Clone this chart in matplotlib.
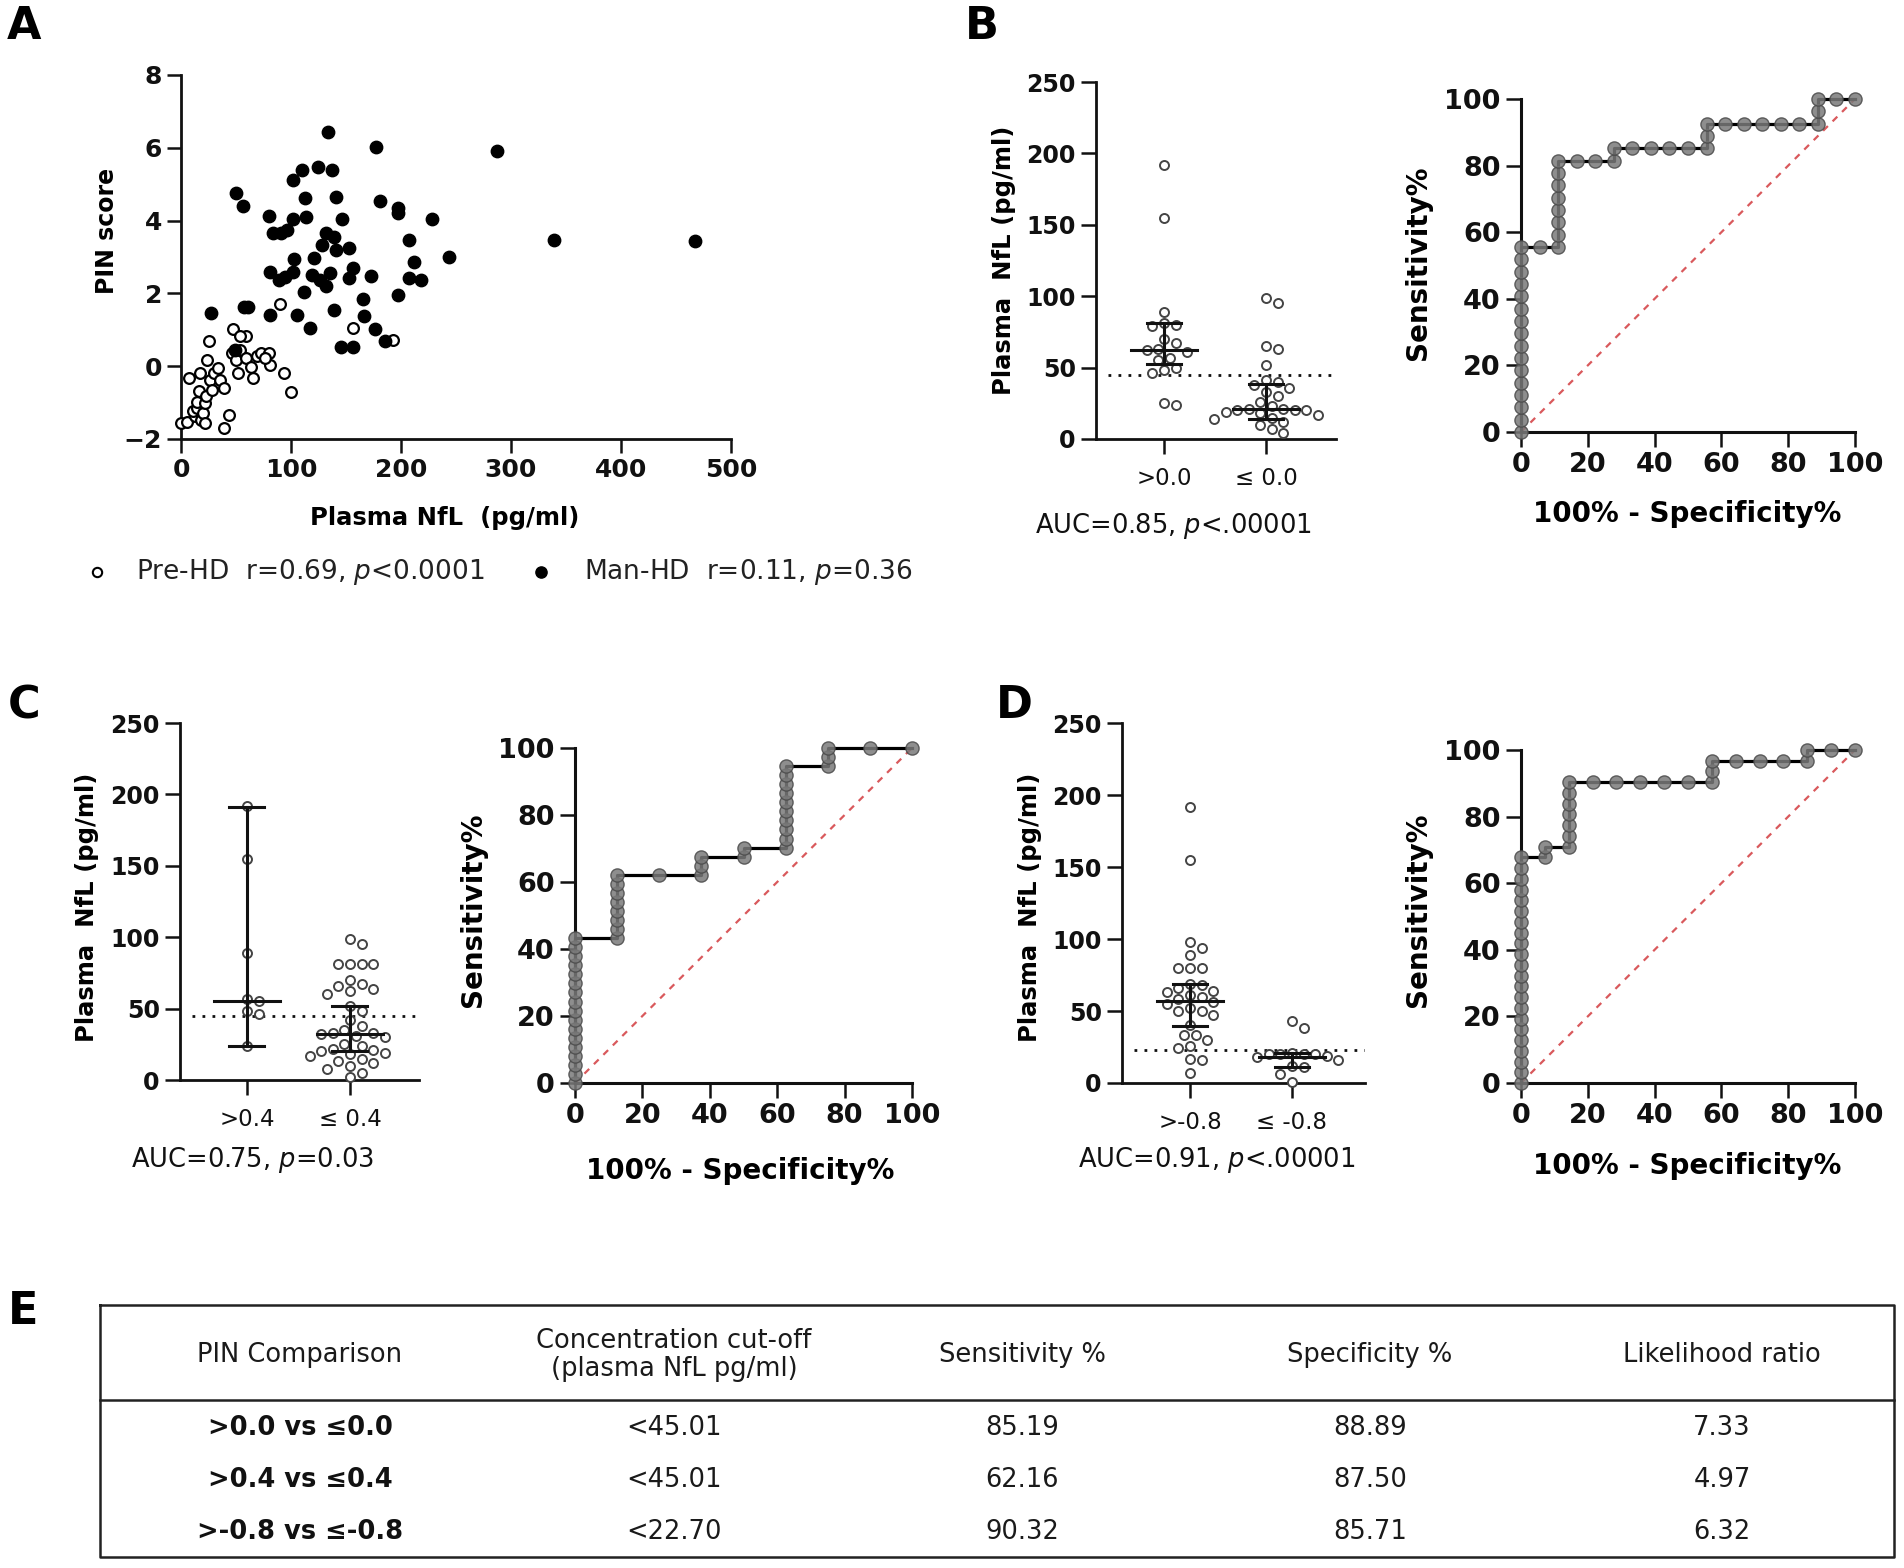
import numpy as np
import matplotlib
matplotlib.use("Agg")
import matplotlib.pyplot as plt

plt.rcParams['font.family'] = ['DejaVu Sans']
plt.rcParams['mathtext.fontset'] = 'dejavusans'

# ---------------- DATA ----------------
# Panel A: PIN score vs plasma NfL
pre_nfl = [0, 5.6, 7.4, 13, 11, 14.9, 14.9, 16.7, 17.5, 18.6, 20.4, 21.6, 22.3, 21.6, 25, 24, 26, 27.9,
           29.7, 33.5, 35.3, 39, 39, 43.9, 47.6, 46.5, 50.2, 52, 53.9, 58.7, 59.5, 63.2, 65, 68.8, 72.5,
           80, 81, 90, 94, 99.6, 156, 193, 53.9, 76]
pre_pin = [-1.56, -1.52, -0.33, -1.38, -1.24, -1.15, -0.97, -0.69, -0.19, -1.47, -1.29, -1.01, -0.83, -1.56,
           0.68, 0.18, -0.37, -0.65, -0.19, -0.05, -0.37, -0.6, -1.7, -1.33, 1.02, 0.36, 0.18, -0.19, 0.45,
           0.84, 0.22, -0.01, -0.33, 0.27, 0.36, 0.36, 0.04, 1.7, -0.19, -0.71, 1.05, 0.71, 0.82, 0.22]
man_nfl = [27, 50, 56.5, 49.4, 57.6, 61, 80, 83.6, 81, 81, 91, 96.7, 89, 94.8, 101.5, 109.7, 101.5, 103,
           102, 105, 112.6, 114, 111.5, 117, 124.5, 120.8, 119, 126, 128, 132, 133.8, 137.5, 139.4, 132,
           135.7, 141, 141, 138.7, 145, 146.8, 153, 153, 156, 156, 165.4, 166.5, 172.9, 177.7, 176.6, 181,
           185.9, 197, 197, 197, 207.4, 212, 207.4, 218.6, 228.6, 243.5, 287, 339, 467.7]
man_pin = [1.46, 4.77, 4.41, 0.45, 1.64, 1.64, 4.14, 3.65, 2.58, 1.41, 3.65, 3.75, 2.37, 2.46, 5.12, 5.39,
           4.04, 2.95, 2.6, 1.41, 4.61, 4.11, 2.05, 1.06, 5.48, 2.97, 2.51, 2.37, 3.33, 3.65, 6.44, 5.39,
           3.56, 2.19, 2.56, 4.66, 3.2, 1.55, 0.54, 4.04, 3.24, 2.42, 2.7, 0.54, 1.84, 1.38, 2.48, 6.03,
           1.02, 4.55, 0.68, 4.34, 4.2, 1.96, 3.47, 2.86, 2.42, 2.36, 4.04, 3.0, 5.91, 3.47, 3.44]
legend_labels = ["Pre-HD  r=0.69, $\\it{p}$<0.0001", "Man-HD  r=0.11, $\\it{p}$=0.36"]

# Panel B: PIN >0.0 vs <=0.0
B_cats = [">0.0", "\u2264 0.0"]
B_hi = [192, 155, 89, 81, 80, 79, 70, 67, 63, 62, 61, 57, 55, 50, 48, 46, 25, 24]
B_lo = [99, 95, 65, 63, 52, 41, 40, 38, 36, 33, 30, 26, 23, 21, 21, 20, 20, 20, 19, 18, 17, 15, 14, 12, 10, 7, 4]
B_med = [62.5, 21]
B_q1 = [52.5, 14]
B_q3 = [81, 38.5]
B_auc = "AUC=0.85, $\\it{p}$<.00001"
B_fpr = [0, 0, 0, 0, 0, 0, 0, 0, 0, 0, 0, 0, 0, 0, 0, 0, 5.56, 11.11, 11.11, 11.11, 11.11, 11.11, 11.11,
         11.11, 11.11, 16.67, 22.22, 27.78, 27.78, 33.33, 38.89, 44.44, 50.0, 55.56, 55.56, 55.56, 61.11,
         66.67, 72.22, 77.78, 83.33, 88.89, 88.89, 88.89, 94.44, 100]
B_tpr = [0, 3.70, 7.41, 11.11, 14.81, 18.52, 22.22, 25.93, 29.63, 33.33, 37.04, 40.74, 44.44, 48.15, 51.85,
         55.56, 55.56, 55.56, 59.26, 62.96, 66.67, 70.37, 74.07, 77.78, 81.48, 81.48, 81.48, 81.48, 85.19,
         85.19, 85.19, 85.19, 85.19, 85.19, 88.89, 92.59, 92.59, 92.59, 92.59, 92.59, 92.59, 92.59, 96.30,
         100, 100, 100]

# Panel C: PIN >0.4 vs <=0.4
C_cats = [">0.4", "\u2264 0.4"]
C_hi = [192, 155, 89, 57, 55, 48, 46, 24]
C_lo = [99, 95, 81, 81, 81, 81, 70, 67, 66, 64, 62, 60, 52, 48, 42, 38, 35, 33, 33, 32, 31, 30, 25, 24,
        22, 21, 20, 19, 18, 17, 15, 13, 12, 10, 8, 5, 2]
C_med = [55, 32]
C_q1 = [24, 20]
C_q3 = [191.5, 51.5]
C_auc = "AUC=0.75, $\\it{p}$=0.03"
C_fpr = [0, 0, 0, 0, 0, 0, 0, 0, 0, 0, 0, 0, 0, 0, 0, 0, 0, 12.5, 12.5, 12.5, 12.5, 12.5, 12.5, 12.5, 12.5,
         25, 37.5, 37.5, 37.5, 50, 50, 62.5, 62.5, 62.5, 62.5, 62.5, 62.5, 62.5, 62.5, 62.5, 62.5,
         75, 75, 75, 87.5, 100]
C_tpr = [0, 2.70, 5.41, 8.11, 10.81, 13.51, 16.22, 18.92, 21.62, 24.32, 27.03, 29.73, 32.43, 35.14, 37.84,
         40.54, 43.24, 43.24, 45.95, 48.65, 51.35, 54.05, 56.76, 59.46, 62.16, 62.16, 62.16, 64.86, 67.57,
         67.57, 70.27, 70.27, 72.97, 75.68, 78.38, 81.08, 83.78, 86.49, 89.19, 91.89, 94.59, 94.59, 97.30,
         100, 100, 100]

# Panel D: PIN >-0.8 vs <=-0.8
D_cats = [">-0.8", "\u2264 -0.8"]
D_hi = [192, 155, 98, 94, 89, 80, 80, 80, 69, 68, 66, 64, 63, 61, 60, 58, 56, 55, 52, 50, 50, 47, 40,
        33, 33, 30, 26, 24, 17, 16, 7]
D_lo = [43, 38, 21, 20, 20, 20, 20, 19, 18, 16, 12, 11, 6, 1]
D_med = [57, 18]
D_q1 = [39.5, 11]
D_q3 = [68.5, 20.5]
D_auc = "AUC=0.91, $\\it{p}$<.00001"
D_fpr = [0, 0, 0, 0, 0, 0, 0, 0, 0, 0, 0, 0, 0, 0, 0, 0, 0, 0, 0, 0, 0, 0, 7.14, 7.14, 14.29, 14.29,
         14.29, 14.29, 14.29, 14.29, 14.29, 21.43, 28.57, 35.71, 42.86, 50.0, 57.14, 57.14, 57.14, 64.29,
         71.43, 78.57, 85.71, 85.71, 92.86, 100]
D_tpr = [0, 3.23, 6.45, 9.68, 12.90, 16.13, 19.35, 22.58, 25.81, 29.03, 32.26, 35.48, 38.71, 41.94, 45.16,
         48.39, 51.61, 54.84, 58.06, 61.29, 64.52, 67.74, 67.74, 70.97, 70.97, 74.19, 77.42, 80.65, 83.87,
         87.10, 90.32, 90.32, 90.32, 90.32, 90.32, 90.32, 90.32, 93.55, 96.77, 96.77, 96.77, 96.77, 96.77,
         100, 100, 100]

# Panel E: table
tab_headers = ["PIN Comparison", "Concentration cut-off\n(plasma NfL pg/ml)", "Sensitivity %",
               "Specificity %", "Likelihood ratio"]
tab_comp = [">0.0 vs \u22640.0", ">0.4 vs \u22640.4", ">-0.8 vs \u2264-0.8"]
tab_cutoff = [45.01, 45.01, 22.70]
tab_sens = [85.19, 62.16, 90.32]
tab_spec = [88.89, 87.50, 85.71]
tab_lr = [7.33, 4.97, 6.32]

# ---------------- FIGURE ----------------
W, H = 1904, 1568
fig = plt.figure(figsize=(W / 100, H / 100), dpi=100)
fig.patch.set_facecolor('white')


def add_ax(l, t, r, b):
    return fig.add_axes([l / W, 1 - b / H, (r - l) / W, (b - t) / H])


def ftext(x, y, s, **kw):
    fig.text(x / W, 1 - y / H, s, **kw)


def style(ax, lw=2.0, tl=10):
    for s in ['top', 'right']:
        ax.spines[s].set_visible(False)
    for s in ['left', 'bottom']:
        ax.spines[s].set_linewidth(lw)
        ax.spines[s].set_color('#111111')
    ax.tick_params(direction='out', length=tl, width=1.8, color='#111111')


DARK = '#111111'

# ---- Panel A ----
axA = add_ax(181, 75, 731, 439)
style(axA)
axA.scatter(pre_nfl, pre_pin, s=60, facecolors='white', edgecolors='black', linewidths=1.6,
            clip_on=False, zorder=3)
axA.scatter(man_nfl, man_pin, s=80, facecolors='black', edgecolors='black', linewidths=1,
            clip_on=False, zorder=4)
axA.set_xlim(0, 500)
axA.set_ylim(-2, 8)
axA.set_xticks([0, 100, 200, 300, 400, 500])
axA.set_yticks([-2, 0, 2, 4, 6, 8])
for lab in axA.get_xticklabels() + axA.get_yticklabels():
    lab.set_fontweight('bold')
    lab.set_fontsize(18)
    lab.set_color(DARK)
ftext(107, 231, "PIN score", rotation=90, ha='center', va='center', fontsize=17, fontweight='bold')
ftext(445, 518, "Plasma NfL  (pg/ml)", ha='center', va='center', fontsize=17.5, fontweight='bold')
# legend
legA = fig.add_axes([0, 0, 1, 1], facecolor='none')
legA.set_axis_off()
legA.set_xlim(0, W)
legA.set_ylim(H, 0)
legA.scatter([96.5], [572], s=45, facecolors='white', edgecolors='black', linewidths=1.5)
legA.scatter([541], [572], s=65, facecolors='black', edgecolors='black')
legA.text(136, 572, legend_labels[0], ha='left', va='center', fontsize=19, color='#222222')
legA.text(584, 572, legend_labels[1], ha='left', va='center', fontsize=19, color='#222222')


# ---- dot plots ----
def swarm_x(values, center, px_x, px_y, diam):
    vals = np.asarray(values, dtype=float)
    order = np.argsort(-vals)
    placed = []
    xs = np.zeros(len(vals))
    step = diam * 0.55
    cands = [0.0]
    for k in range(1, 40):
        cands += [k * step, -k * step]
    for i in order:
        ypx = vals[i] * px_y
        for off in cands:
            ok = True
            for (px, py) in placed:
                if (off - px) ** 2 + (ypx - py) ** 2 < diam ** 2:
                    ok = False
                    break
            if ok:
                break
        placed.append((off, ypx))
        xs[i] = center + off / px_x
    return xs


def dot_panel(box, xlim, cats, groups, med, q1, q3, cutoff, auc, ylab_xy, cat_pad, auc_xy):
    l, t, r, b = box
    ax = add_ax(l, t, r, b)
    style(ax, tl=11)
    ax.set_xlim(*xlim)
    ax.set_ylim(0, 250)
    px_x = (r - l) / (xlim[1] - xlim[0])
    px_y = (b - t) / 250.0
    for gi, vals in enumerate(groups):
        xs = swarm_x(vals, gi, px_x, px_y, 10.5)
        ax.scatter(xs, vals, s=42, facecolors='white', edgecolors='#444444', linewidths=1.4,
                   zorder=3, clip_on=False)
        ax.plot([gi - 0.32, gi + 0.32], [med[gi], med[gi]], color=DARK, lw=2.2, zorder=4)
        ax.plot([gi, gi], [q1[gi], q3[gi]], color=DARK, lw=2.2, zorder=4)
        for v in (q1[gi], q3[gi]):
            ax.plot([gi - 0.17, gi + 0.17], [v, v], color=DARK, lw=2.2, zorder=4)
    ax.axhline(cutoff, xmin=0.05, xmax=1.0, color=DARK, lw=2, ls=(0, (1, 2.6)), zorder=2)
    ax.set_xticks([0, 1])
    ax.set_xticklabels(cats, fontsize=16.5, color=DARK)
    ax.tick_params(axis='x', pad=cat_pad)
    ax.set_yticks([0, 50, 100, 150, 200, 250])
    for lab in ax.get_yticklabels():
        lab.set_fontweight('bold')
        lab.set_fontsize(17)
        lab.set_color(DARK)
    ftext(ylab_xy[0], ylab_xy[1], "Plasma  NfL (pg/ml)", rotation=90, ha='center', va='center',
          fontsize=17.5, fontweight='bold')
    ftext(auc_xy[0], auc_xy[1], auc, ha='center', va='center', fontsize=18.5, color=DARK)
    return ax


def roc_panel(box, fpr, tpr, ylab_xy, xlab_xy):
    l, t, r, b = box
    ax = add_ax(l, t, r, b)
    style(ax, lw=2.2, tl=11)
    ax.set_xlim(0, 100)
    ax.set_ylim(0, 100)
    ax.plot([0, 100], [0, 100], color='#d9595c', lw=1.6, ls=(0, (3, 3)), zorder=2)
    ax.plot(fpr, tpr, color='black', lw=2.3, zorder=3, clip_on=False)
    ax.plot(fpr, tpr, ls='none', marker='o', ms=9.5, mfc='#7a7a7a', mec='#4a4a4a', mew=1.0,
            alpha=0.85, zorder=4, clip_on=False)
    ax.set_xticks([0, 20, 40, 60, 80, 100])
    ax.set_yticks([0, 20, 40, 60, 80, 100])
    for lab in ax.get_xticklabels() + ax.get_yticklabels():
        lab.set_fontweight('bold')
        lab.set_fontsize(19.5)
        lab.set_color(DARK)
    ftext(ylab_xy[0], ylab_xy[1], "Sensitivity%", rotation=90, ha='center', va='center',
          fontsize=20, fontweight='bold')
    ftext(xlab_xy[0], xlab_xy[1], "100% - Specificity%", ha='center', va='center',
          fontsize=20, fontweight='bold')
    return ax


dot_panel((1096, 82, 1336, 439), (-0.667, 1.686), B_cats, [B_hi, B_lo], B_med, B_q1, B_q3,
          tab_cutoff[0], B_auc, (1004, 260), 9, (1173, 526))
roc_panel((1521, 99, 1855, 432), B_fpr, B_tpr, (1418, 263), (1687, 514))

dot_panel((180, 723, 419, 1080), (-0.65, 1.67), C_cats, [C_hi, C_lo], C_med, C_q1, C_q3,
          tab_cutoff[1], C_auc, (87, 907), 9, (252, 1160))
roc_panel((575, 748, 912, 1083), C_fpr, C_tpr, (473, 910), (740, 1171))

dot_panel((1122, 723, 1365, 1083), (-0.667, 1.716), D_cats, [D_hi, D_lo], D_med, D_q1, D_q3,
          tab_cutoff[2], D_auc, (1030, 907), 9, (1217, 1160))
roc_panel((1521, 750, 1855, 1083), D_fpr, D_tpr, (1418, 910), (1687, 1166))

# panel letters
for letter, (x, y) in zip("ABCDE", [(7, 5), (965, 5), (8, 684), (996, 684), (8, 1290)]):
    ftext(x, y, letter, ha='left', va='top', fontsize=32, fontweight='bold')

# ---- Panel E: table ----
axT = fig.add_axes([0, 0, 1, 1], facecolor='none')
axT.set_axis_off()
axT.set_xlim(0, W)
axT.set_ylim(H, 0)
axT.plot([100, 1894, 1894, 100, 100], [1305, 1305, 1557, 1557, 1305], color='#222222', lw=1.8)
axT.plot([100, 1894], [1400, 1400], color='#222222', lw=1.8)
col_x = [300, 674, 1022, 1370, 1722]
TS = 18.5
for cx, h in zip(col_x, tab_headers):
    axT.text(cx, 1355, h, ha='center', va='center', fontsize=TS, color='#1a1a1a', linespacing=1.15)
row_y = [1428, 1480, 1532]
for i, ry in enumerate(row_y):
    axT.text(col_x[0], ry, tab_comp[i], ha='center', va='center', fontsize=TS, fontweight='bold',
             color='#111111')
    axT.text(col_x[1], ry, "<%.2f" % tab_cutoff[i], ha='center', va='center', fontsize=TS, color='#1a1a1a')
    axT.text(col_x[2], ry, "%.2f" % tab_sens[i], ha='center', va='center', fontsize=TS, color='#1a1a1a')
    axT.text(col_x[3], ry, "%.2f" % tab_spec[i], ha='center', va='center', fontsize=TS, color='#1a1a1a')
    axT.text(col_x[4], ry, "%.2f" % tab_lr[i], ha='center', va='center', fontsize=TS, color='#1a1a1a')

fig.savefig("out.png", dpi=100, facecolor='white')
